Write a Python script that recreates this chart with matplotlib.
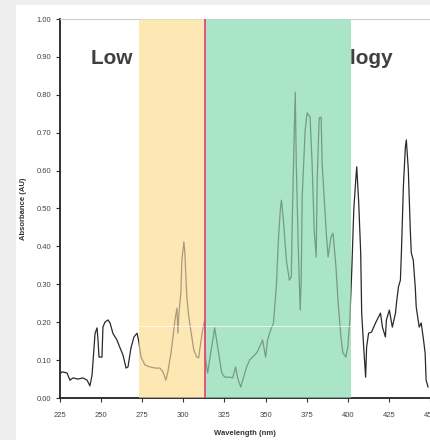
import matplotlib
matplotlib.use("Agg")
import matplotlib.pyplot as plt
from matplotlib.patches import Rectangle
from matplotlib.font_manager import FontProperties

# Absorbance spectrum
wavelength = [225.0, 226.5, 229.5, 231.3, 233.1, 236.2, 239.2, 241.7, 243.4, 244.7,
              245.9, 246.5, 247.7, 248.3, 248.9, 250.7, 251.3, 252.5, 254.4, 255.6,
              257.4, 259.8, 261.7, 263.5, 265.3, 266.5, 268.3, 270.1, 272.0, 273.0,
              274.4, 276.8, 279.8, 282.9, 285.9, 287.7, 289.5, 290.7, 292.6, 293.8,
              295.0, 296.2, 296.8, 297.4, 298.6, 299.2, 300.4, 301.0, 302.2, 303.4,
              305.2, 306.4, 308.2, 309.4, 310.6, 311.8, 313.0, 313.6, 314.8, 317.3,
              319.1, 320.9, 323.4, 325.2, 328.2, 330.0, 331.8, 333.0, 334.9, 336.1,
              338.5, 340.3, 342.1, 344.6, 346.4, 348.2, 350.0, 351.2, 353.0, 354.8,
              356.6, 357.8, 359.0, 359.6, 360.8, 362.6, 364.4, 365.6, 366.2, 367.4,
              368.0, 368.6, 369.8, 371.0, 371.6, 372.2, 374.0, 375.2, 377.0, 378.2,
              379.5, 380.7, 381.3, 382.5, 383.7, 384.3, 386.7, 387.9, 389.7, 390.9,
              392.7, 393.9, 395.7, 396.9, 398.7, 399.9, 401.1, 402.3, 403.5, 404.7,
              405.3, 406.5, 407.7, 408.3, 409.5, 410.7, 411.3, 412.5, 414.3, 416.7,
              418.5, 419.7, 420.9, 422.7, 423.3, 425.1, 426.9, 428.8, 429.4, 430.6,
              431.8, 432.4, 433.6, 434.8, 435.4, 436.6, 437.8, 438.4, 439.6, 440.8,
              441.4, 443.2, 444.4, 445.6, 446.8, 447.4, 448.6]
absorbance = [0.063, 0.069, 0.066, 0.047, 0.053, 0.050, 0.053, 0.047, 0.032, 0.061,
              0.135, 0.170, 0.185, 0.153, 0.108, 0.108, 0.187, 0.200, 0.206, 0.198,
              0.170, 0.153, 0.132, 0.113, 0.079, 0.082, 0.132, 0.161, 0.171, 0.150,
              0.108, 0.087, 0.082, 0.079, 0.079, 0.069, 0.047, 0.069, 0.119, 0.161,
              0.206, 0.237, 0.171, 0.224, 0.277, 0.364, 0.412, 0.383, 0.266, 0.214,
              0.161, 0.127, 0.108, 0.106, 0.145, 0.179, 0.206, 0.100, 0.066, 0.135,
              0.185, 0.135, 0.066, 0.055, 0.055, 0.053, 0.082, 0.053, 0.029, 0.047,
              0.082, 0.100, 0.108, 0.119, 0.135, 0.153, 0.108, 0.153, 0.179, 0.198,
              0.300, 0.420, 0.500, 0.522, 0.470, 0.364, 0.311, 0.319, 0.470, 0.707,
              0.807, 0.620, 0.400, 0.232, 0.311, 0.530, 0.707, 0.752, 0.741, 0.620,
              0.443, 0.372, 0.575, 0.739, 0.741, 0.620, 0.443, 0.372, 0.425, 0.435,
              0.346, 0.259, 0.161, 0.119, 0.108, 0.135, 0.206, 0.338, 0.496, 0.575,
              0.610, 0.515, 0.383, 0.224, 0.135, 0.055, 0.135, 0.171, 0.174, 0.198,
              0.214, 0.224, 0.187, 0.161, 0.206, 0.232, 0.187, 0.224, 0.250, 0.293,
              0.311, 0.383, 0.557, 0.662, 0.681, 0.602, 0.443, 0.383, 0.364, 0.293,
              0.240, 0.187, 0.198, 0.161, 0.119, 0.047, 0.029]

# Highlighted bands (nm)
band_low = (273.0, 313.0)
band_high = (313.0, 402.0)
band_split = 313.0
x_ticks = [225, 250, 275, 300, 325, 350, 375, 400, 425, 450]
y_ticks = [0.0, 0.1, 0.2, 0.3, 0.4, 0.5, 0.6, 0.7, 0.8, 0.9, 1.0]

title_head = "Low Cost Spectral Techno"
title_tail = "logy"

W, H = 431, 440
fig = plt.figure(figsize=(W / 100, H / 100), dpi=100, facecolor="white")
# grey frame strips along the top and left edges
fig.add_artist(Rectangle((0, 0), 16 / W, 1, transform=fig.transFigure,
                         facecolor="#eeeeee", edgecolor="none", zorder=-10))
fig.add_artist(Rectangle((0, 435 / H), 1, 5 / H, transform=fig.transFigure,
                         facecolor="#eeeeee", edgecolor="none", zorder=-10))

ax = fig.add_axes([59.6 / W, 42 / H, (430.4 - 59.6) / W, 379 / H])
ax.set_facecolor("white")
ax.set_xlim(225, 450)
ax.set_ylim(0, 1.0)

orange = "#fde8b4"
green = "#abe5c7"

# solid bands underneath the trace
ax.axvspan(*band_low, color=orange, lw=0, zorder=2)
ax.axvspan(*band_high, color=green, lw=0, zorder=2)
ax.plot(wavelength, absorbance, color="#2a2a2a", lw=0.9, zorder=3)
# translucent wash over the trace
ax.axvspan(*band_low, color=orange, lw=0, alpha=0.6, zorder=4)
ax.axvspan(*band_high, color=green, lw=0, alpha=0.6, zorder=4)
ax.hlines(0.19, band_low[0], band_high[1], color="white", lw=0.6, alpha=0.8, zorder=5)
ax.axvline(band_split, color="#e8457a", lw=1.3, zorder=6)

ax.set_xticks(x_ticks)
ax.set_xticklabels([str(t) for t in x_ticks])
ax.set_yticks(y_ticks)
ax.set_yticklabels([f"{t:.2f}" for t in y_ticks])
ax.tick_params(axis="both", labelsize=5.5, colors="#333333", length=3, width=0.8,
               labelcolor="#444444")
ax.tick_params(axis="x", pad=7)
ax.tick_params(axis="y", pad=3)
for lab in ax.get_xticklabels() + ax.get_yticklabels():
    lab.set_family("Liberation Sans")

for side in ("left", "bottom"):
    ax.spines[side].set_color("#222222")
    ax.spines[side].set_linewidth(1.3)
ax.spines["top"].set_color("#cccccc")
ax.spines["top"].set_linewidth(0.8)
ax.spines["right"].set_visible(False)

ax.set_xlabel("Wavelength (nm)", fontsize=5.5, family="Liberation Sans",
              fontweight="bold", color="#333333", labelpad=8)
ax.set_ylabel("Absorbance (AU)", fontsize=5.5, family="Liberation Sans",
              fontweight="bold", color="#333333", labelpad=7)

# Banner title: size it so the head of the phrase runs from the left margin
# up to the right edge of the green band, where the tail takes over.
renderer = fig.canvas.get_renderer()
band_edge_px = ax.transData.transform((band_high[1], 0))[0]
left_px = 91.0
size = 15.0
for _ in range(4):
    prop = FontProperties(family="Liberation Sans", weight="bold", size=size)
    head_w, _, _ = renderer.get_text_width_height_descent(title_head, prop, ismath=False)
    size *= (band_edge_px - 1.5 - left_px) / head_w
prop = FontProperties(family="Liberation Sans", weight="bold", size=size)
head_w, _, _ = renderer.get_text_width_height_descent(title_head, prop, ismath=False)
start_px = band_edge_px - 1.5 - head_w

# drawn inside the axes, beneath the bands, so only its two ends show
ax.text(start_px / W, (H - 59) / H, title_head + title_tail, transform=fig.transFigure,
        ha="left", va="center", fontproperties=prop, color="#404040", zorder=1)

fig.savefig("out.png", dpi=100, facecolor=fig.get_facecolor())
